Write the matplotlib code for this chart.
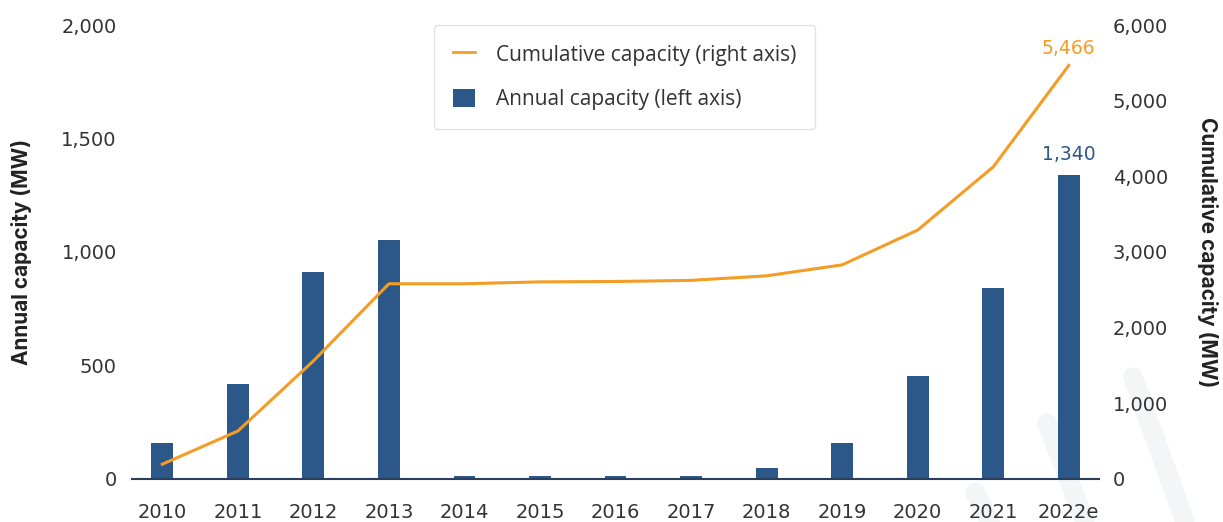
import matplotlib
matplotlib.use("Agg")
import matplotlib.pyplot as plt
from matplotlib.lines import Line2D
from matplotlib.patches import Patch

years = ["2010", "2011", "2012", "2013", "2014", "2015", "2016", "2017",
         "2018", "2019", "2020", "2021", "2022e"]
annual_mw = [158, 418, 912, 1053, 12, 12, 12, 12, 48, 158, 454, 841, 1340]
cumulative_mw = [195, 634, 1560, 2580, 2580, 2605, 2610, 2625, 2685, 2830,
                 3290, 4125, 5466]
left_ticks = [0, 500, 1000, 1500, 2000]
right_ticks = [0, 1000, 2000, 3000, 4000, 5000, 6000]

BLUE = "#2C5789"
ORANGE = "#F59C25"
TEXT = "#333333"

plt.rcParams['font.family'] = ['DejaVu Sans']

fig = plt.figure(figsize=(12.23, 5.22), dpi=100)
ax = fig.add_axes([0.108, 0.0824, 0.7906, 0.8697])
ax2 = ax.twinx()

# faint decorative strokes (watermark)
for (x0, y0, x1, y1) in [(1047, 423, 1085, 522), (1133, 377, 1185, 522), (975, 492, 990, 522)]:
    fig.add_artist(Line2D([x0 / 1223, x1 / 1223], [1 - y0 / 522, 1 - y1 / 522],
                          color="#F4F5F7", lw=14, solid_capstyle="round", zorder=0))

x = list(range(len(years)))
ax.bar(x, annual_mw, width=0.29, color=BLUE, zorder=3)
ax2.plot(x, cumulative_mw, color=ORANGE, lw=2.2, zorder=4)

ax.set_xlim(-0.4, 12.4)
ax.set_ylim(0, 2000)
ax2.set_ylim(0, 6000)
ax.set_yticks(left_ticks)
ax.set_yticklabels([f"{v:,}" for v in left_ticks])
ax2.set_yticks(right_ticks)
ax2.set_yticklabels([f"{v:,}" for v in right_ticks])
ax.set_xticks(x)
ax.set_xticklabels(years)

for a in (ax, ax2):
    for s in a.spines.values():
        s.set_visible(False)
    a.tick_params(length=0, labelsize=14, colors=TEXT)
    a.patch.set_visible(False)
ax.spines['bottom'].set_visible(True)
ax.spines['bottom'].set_color("#2A3F5F")
ax.spines['bottom'].set_linewidth(1.5)
ax.spines['bottom'].set_zorder(5)
ax.tick_params(axis='x', pad=17)
ax.tick_params(axis='y', pad=11)
ax2.tick_params(axis='y', pad=10)

ax.set_ylabel("Annual capacity (MW)", fontsize=15, fontweight='bold', color="#222222",
              family=['Inter', 'DejaVu Sans'], labelpad=21)
ax2.set_ylabel("Cumulative capacity (MW)", fontsize=15, fontweight='bold', color="#222222",
               family=['Inter', 'DejaVu Sans'], rotation=270, labelpad=36)

ax.annotate(f"{annual_mw[-1]:,}", xy=(x[-1], annual_mw[-1]), xytext=(0, 8),
            textcoords="offset points", ha="center", va="bottom", fontsize=13.5, color=BLUE)
ax2.annotate(f"{cumulative_mw[-1]:,}", xy=(x[-1], cumulative_mw[-1]), xytext=(0, 5),
             textcoords="offset points", ha="center", va="bottom", fontsize=13.5, color=ORANGE)

handles = [Line2D([0], [0], color=ORANGE, lw=2),
           Patch(facecolor=BLUE)]
labels = ["Cumulative capacity (right axis)", "Annual capacity (left axis)"]
leg = ax2.legend(handles, labels, loc="upper left", bbox_to_anchor=(0.312, 0.999),
                 borderaxespad=0, prop={'family': ['Open Sans', 'DejaVu Sans'], 'size': 15},
                 frameon=True, borderpad=0.9, labelspacing=1.1, handleheight=1.0,
                 handlelength=1.1, handletextpad=1.0, fancybox=True)
leg.get_frame().set_edgecolor("#DDDDDD")
leg.get_frame().set_linewidth(1.0)
for t in leg.get_texts():
    t.set_color(TEXT)

fig.savefig("out.png", dpi=100, facecolor="white")
